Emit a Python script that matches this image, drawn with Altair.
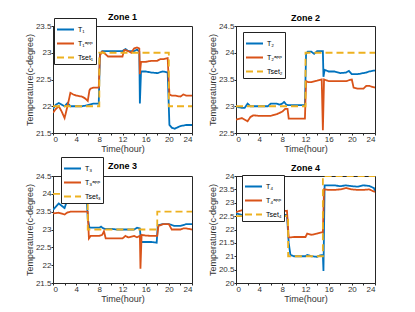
import altair as alt
import pandas as pd

# ---------------- data ----------------
Z1_T_t = [0,0.5,1,1.5,2,2.5,3,4,5,6,7,7.9,8.1,8.5,9,10,11,12,12.5,13,14,14.5,14.9,15.0,15.2,16,17,18,19,19.8,20.1,20.5,21,22,23,24]
Z1_T_v = [21.95,22.03,22.06,22.03,22.0,22.06,22.0,22.0,22.0,22.02,22.05,22.05,22.98,23.03,23.03,23.03,23.03,23.03,23.07,23.03,23.03,23.06,23.02,22.05,22.65,22.65,22.63,22.62,22.65,22.63,21.65,21.6,21.58,21.63,21.65,21.65]
Z1_A_t = [0,0.5,1,1.5,2,2.5,3,3.5,4,5,5.5,6,6.3,6.5,7,7.9,8.1,8.5,9,9.5,10,11,12,12.3,12.5,13,13.5,14,14.5,14.9,15.0,15.2,16,17,18,18.5,19,19.8,20.1,20.5,21,22,22.5,23,24]
Z1_A_v = [21.88,21.95,22.0,21.9,21.78,22.0,22.25,22.22,22.2,22.18,22.15,22.1,22.3,22.33,22.35,22.35,22.95,23.02,22.98,22.93,22.93,22.93,22.93,23.05,23.05,23.03,23.0,23.08,23.1,23.08,22.6,22.83,22.83,22.85,22.85,22.88,22.88,22.9,22.22,22.2,22.2,22.18,22.22,22.2,22.2]
Z1_S_t = [0,8,8,20,20,24]
Z1_S_v = [22,22,23,23,22,22]

Z2_T_t = [0,0.5,1,1.5,2,2.5,3,4,5,5.5,6,7,7.5,8,8.3,8.7,9,10,11,11.9,12.1,12.4,13,13.5,14,14.5,15,15.1,15.3,16,17,18,19,19.5,20,20.5,21,22,22.5,23,24]
Z2_T_v = [23.0,22.98,22.97,22.97,23.05,23.0,23.0,23.0,23.0,23.0,23.05,23.05,23.03,23.05,23.08,23.03,23.02,23.02,23.02,23.02,23.98,24.02,24.02,23.98,24.03,24.03,24.03,23.55,23.68,23.65,23.65,23.62,23.63,23.66,23.6,23.6,23.6,23.62,23.63,23.65,23.67]
Z2_A_t = [0,1,2,2.5,3,4,5,6,7,8,8.5,8.9,9.1,10,11,11.9,12.1,12.5,13,14,14.8,15.0,15.2,16,17,18,19,20,20.3,21,22,22.5,23,24]
Z2_A_v = [22.75,22.78,22.72,22.8,22.83,22.82,22.82,22.82,22.85,22.9,22.95,22.95,22.77,22.77,22.77,22.77,23.47,23.45,23.45,23.48,23.5,22.55,23.5,23.47,23.47,23.47,23.47,23.5,23.35,23.33,23.33,23.38,23.38,23.35]
Z2_S_t = [0,12,12,24]
Z2_S_v = [23,23,24,24]

Z3_T_t = [0,1,2,2.5,3,4,5,5.8,6.0,6.3,7,8,8.3,8.7,9,10,11,12,13,14,14.5,15,15.2,16,17,17.9,18.1,19,20,21,22,23,24]
Z3_T_v = [23.55,23.73,23.6,23.85,24.0,24.0,24.0,23.95,23.3,23.05,23.05,23.05,23.08,23.03,23.02,23.02,23.0,23.0,23.0,23.0,23.05,23.03,22.65,22.65,22.65,22.63,23.12,23.15,23.15,23.1,23.1,23.15,23.15]
Z3_A_t = [0,1,2,2.5,3,4,5,6,6.2,6.5,7,8,8.5,8.8,9.1,10,11,12,12.5,13,14,14.5,15,15.1,15.3,16,17,18,18.2,19,20,20.5,21,22,22.5,23,24]
Z3_A_v = [23.45,23.47,23.42,23.48,23.5,23.5,23.5,23.5,22.75,22.82,22.82,22.82,22.85,22.95,22.75,22.75,22.75,22.75,22.82,22.78,22.82,22.78,22.82,21.9,22.85,22.83,22.82,22.82,23.1,23.15,23.15,23.0,23.0,23.0,23.03,23.03,23.0]
Z3_S_t = [0,6,6,18,18,24]
Z3_S_v = [24,24,23,23,23.5,23.5]

Z4_T_t = [0,1,2,3,4,5,6,7,8,8.8,9.1,9.4,10,11,12,12.3,13,14,14.5,15,15.1,15.3,16,17,18,19,20,21,22,23,23.8,24]
Z4_T_v = [22.6,22.55,22.58,22.5,22.5,22.5,22.52,22.55,22.55,22.55,21.5,21.05,21.0,21.0,21.0,21.05,21.0,20.98,21.03,21.05,20.45,23.65,23.65,23.65,23.62,23.65,23.62,23.6,23.65,23.63,23.55,23.45]
Z4_A_t = [0,1,2,2.3,3,4,5,6,6.5,7,8,8.8,9.1,10,11,12,12.3,13,14,15,15.2,16,17,18,19,20,21,22,23,24]
Z4_A_v = [22.65,22.72,22.68,22.58,22.75,22.73,22.73,22.73,22.65,22.68,22.68,22.7,21.7,21.72,21.72,21.72,21.85,21.8,21.85,21.9,23.5,23.48,23.48,23.5,23.55,23.5,23.48,23.48,23.5,23.4]
Z4_S_t = [0,9,9,15,15,24]
Z4_S_v = [22.5,22.5,21,21,24,24]

X_TICKS = list(range(0, 25, 2))
Y_DOMAINS = [[21.5, 23.5], [22.5, 24.5], [21.5, 24.5], [20, 24]]
SUBS = ["\u2081", "\u2082", "\u2083", "\u2084"]
SUP_APP = "\u1d43\u1d56\u1d56"

COLORS = ["#0072BD", "#D95319", "#EDB120"]
FONT = "Liberation Sans"

zones = [
    (Z1_T_t, Z1_T_v, Z1_A_t, Z1_A_v, Z1_S_t, Z1_S_v),
    (Z2_T_t, Z2_T_v, Z2_A_t, Z2_A_v, Z2_S_t, Z2_S_v),
    (Z3_T_t, Z3_T_v, Z3_A_t, Z3_A_v, Z3_S_t, Z3_S_v),
    (Z4_T_t, Z4_T_v, Z4_A_t, Z4_A_v, Z4_S_t, Z4_S_v),
]
LEGEND_POS = [(1, -8), (7, 6), (8, -19), (6, -1)]
TITLE_OFFSET = [-4, -1, -14, -1]


def panel(i):
    tt, tv, at, av, st, sv = zones[i]
    s = SUBS[i]
    names = ["T" + s, "T" + s + SUP_APP, "Tset" + s]
    rows = []
    for k, (ts, vs) in enumerate([(tt, tv), (at, av), (st, sv)]):
        for j, (t, v) in enumerate(zip(ts, vs)):
            rows.append({"series": names[k], "t": t, "v": v, "ord": k * 1000 + j})
    df = pd.DataFrame(rows)
    lo, hi = Y_DOMAINS[i]
    y_ticks = [lo + 0.5 * n for n in range(int(round((hi - lo) / 0.5)) + 1)]
    lx, ly = LEGEND_POS[i]
    legend = alt.Legend(
        title=None, orient="none", legendX=lx, legendY=ly,
        fillColor="white", strokeColor="#222222", padding=2,
        symbolType="stroke", symbolSize=289, symbolStrokeWidth=2,
        labelFontSize=7, labelFont=FONT, rowPadding=-7, labelOffset=3,
    )
    return alt.Chart(df).mark_line(strokeWidth=1.8, clip=True).encode(
        x=alt.X("t:Q", scale=alt.Scale(domain=[0, 24], nice=False),
                axis=alt.Axis(values=X_TICKS, title="Time(hour)", grid=False)),
        y=alt.Y("v:Q", scale=alt.Scale(domain=[lo, hi], nice=False, zero=False),
                axis=alt.Axis(values=y_ticks, format=".1~f", title="Temperature(c-degree)", grid=False)),
        color=alt.Color("series:N", scale=alt.Scale(domain=names, range=COLORS), legend=legend),
        strokeDash=alt.StrokeDash("series:N", scale=alt.Scale(domain=names, range=[[1, 0], [1, 0], [7, 4]]), legend=legend),
        detail="series:N",
        order="ord:Q",
    ).properties(
        width=139, height=107,
        title=alt.TitleParams("Zone %d" % (i + 1), fontSize=9, font=FONT, fontWeight="bold",
                              offset=TITLE_OFFSET[i]),
    )


row1 = alt.hconcat(panel(0), panel(1), spacing=44, bounds="flush").resolve_scale(
    color="independent", strokeDash="independent")
row2 = alt.hconcat(panel(2), panel(3), spacing=44, bounds="flush").resolve_scale(
    color="independent", strokeDash="independent")
chart = alt.vconcat(row1, row2, spacing=150, bounds="flush").resolve_scale(
    color="independent", strokeDash="independent"
).configure_view(stroke="#262626", strokeWidth=1).configure_axis(
    labelFont=FONT, titleFont=FONT, labelFontSize=8, titleFontSize=9,
    labelColor="#333333", titleColor="#333333", domainColor="#262626",
    tickColor="#262626", tickSize=2, labelPadding=0, titlePadding=1,
    titleFontWeight="normal",
).properties(padding={"left": 16, "top": 4, "right": 5, "bottom": 5})

chart.save("out.html", embed_options={"renderer": "svg", "actions": False})
